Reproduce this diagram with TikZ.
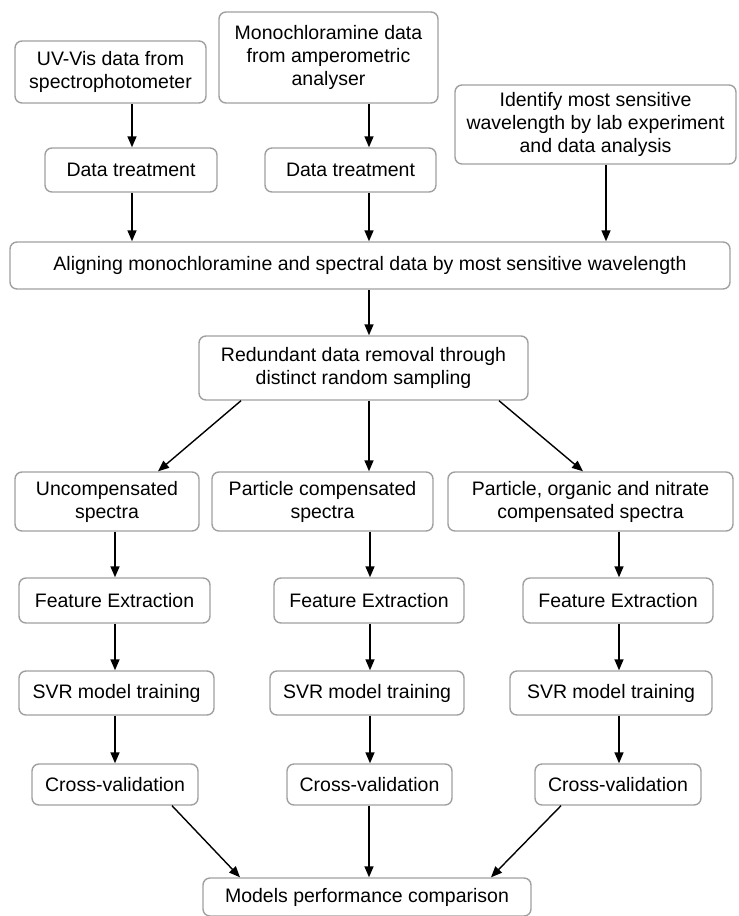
\documentclass[tikz,border=0pt]{standalone}
\usepackage{fontspec}
\setmainfont{Liberation Sans}
\usetikzlibrary{arrows.meta}
\definecolor{boxgray}{HTML}{A0A0A0}
\begin{document}
\begin{tikzpicture}[x=1pt,y=-1pt,
  box/.style={draw=boxgray, line width=1.4pt, rounded corners=7pt, align=center, inner sep=0pt, font=\fontsize{19.5}{23}\selectfont},
  arr/.style={line width=1.4pt, -{Triangle[width=9pt,length=11pt]}}]
\useasboundingbox (0,0) rectangle (739,916);
% top row
\node[box, minimum width=191pt, minimum height=62pt] (uv) at (110.5,72) {UV-Vis data from\\spectrophotometer};
\node[box, minimum width=219pt, minimum height=91pt] (mono) at (328.5,57.5) {Monochloramine data\\from amperometric\\analyser};
\node[box, minimum width=281pt, minimum height=79pt] (ident) at (595.5,124.5) {Identify most sensitive\\wavelength by lab experiment\\and data analysis};
\node[box, minimum width=172pt, minimum height=44pt] (dt1) at (131,170) {Data treatment};
\node[box, minimum width=171pt, minimum height=44pt] (dt2) at (350.5,170) {Data treatment};
\node[box, minimum width=720pt, minimum height=47pt] (align) at (370,265.5) {Aligning monochloramine and spectral data by most sensitive wavelength};
\node[box, minimum width=329pt, minimum height=64pt] (red) at (363.5,368) {Redundant data removal through\\distinct random sampling};
% branches
\node[box, minimum width=184pt, minimum height=59pt] (unc) at (107,501.5) {Uncompensated\\spectra};
\node[box, minimum width=221pt, minimum height=59pt] (pcs) at (322.5,501.5) {Particle compensated\\spectra};
\node[box, minimum width=285pt, minimum height=59pt] (pon) at (590.5,501.5) {Particle, organic and nitrate\\compensated spectra};
\node[box, minimum width=191pt, minimum height=45pt] (fe1) at (114.5,600.5) {Feature Extraction};
\node[box, minimum width=190pt, minimum height=45pt] (fe2) at (369,600.5) {Feature Extraction};
\node[box, minimum width=190pt, minimum height=45pt] (fe3) at (618,600.5) {Feature Extraction};
\node[box, minimum width=195pt, minimum height=44pt] (svr1) at (116.5,693) {SVR model training};
\node[box, minimum width=194pt, minimum height=44pt] (svr2) at (367,693) {SVR model training};
\node[box, minimum width=202pt, minimum height=44pt] (svr3) at (611,693) {SVR model training};
\node[box, minimum width=166pt, minimum height=41pt] (cv1) at (115,784.5) {Cross-validation};
\node[box, minimum width=165pt, minimum height=41pt] (cv2) at (369.5,784.5) {Cross-validation};
\node[box, minimum width=166pt, minimum height=41pt] (cv3) at (618,784.5) {Cross-validation};
\node[box, minimum width=328pt, minimum height=38pt] (models) at (367,897) {Models performance comparison};
% arrow columns
\coordinate (xa) at (132,0);
\coordinate (xb) at (369,0);
\coordinate (xc) at (606,0);
\coordinate (xl) at (115,0);
\coordinate (xm) at (370,0);
\coordinate (xr) at (619,0);
\coordinate (rs1) at (241,0);
\coordinate (rs3) at (499,0);
\coordinate (re1) at (158,0);
\coordinate (re3) at (583,0);
\coordinate (cs1) at (172,0);
\coordinate (cs3) at (561,0);
\coordinate (ce1) at (240,0);
\coordinate (ce3) at (491,0);
\draw[arr] (uv.south -| xa) -- (dt1.north -| xa);
\draw[arr] (mono.south -| xb) -- (dt2.north -| xb);
\draw[arr] (dt1.south -| xa) -- (align.north -| xa);
\draw[arr] (dt2.south -| xb) -- (align.north -| xb);
\draw[arr] (ident.south -| xc) -- (align.north -| xc);
\draw[arr] (align.south -| xb) -- (red.north -| xb);
\draw[arr] (red.south -| rs1) -- (unc.north -| re1);
\draw[arr] (red.south -| xb) -- (pcs.north -| xb);
\draw[arr] (red.south -| rs3) -- (pon.north -| re3);
\draw[arr] (unc.south -| xl) -- (fe1.north -| xl);
\draw[arr] (pcs.south -| xm) -- (fe2.north -| xm);
\draw[arr] (pon.south -| xr) -- (fe3.north -| xr);
\draw[arr] (fe1.south -| xl) -- (svr1.north -| xl);
\draw[arr] (fe2.south -| xm) -- (svr2.north -| xm);
\draw[arr] (fe3.south -| xr) -- (svr3.north -| xr);
\draw[arr] (svr1.south -| xl) -- (cv1.north -| xl);
\draw[arr] (svr2.south -| xm) -- (cv2.north -| xm);
\draw[arr] (svr3.south -| xr) -- (cv3.north -| xr);
\draw[arr] (cv1.south -| cs1) -- (models.north -| ce1);
\draw[arr] (cv2.south -| xb) -- (models.north -| xb);
\draw[arr] (cv3.south -| cs3) -- (models.north -| ce3);
\end{tikzpicture}
\end{document}
